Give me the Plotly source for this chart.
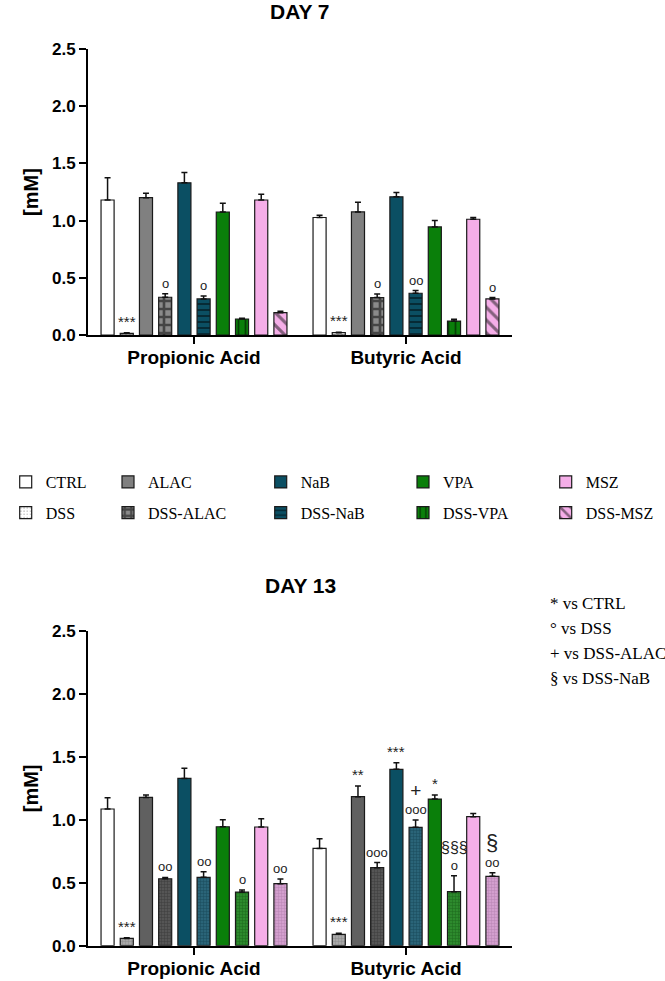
import plotly.graph_objects as go

categories = ["Propionic Acid", "Butyric Acid"]
groups = ["CTRL", "DSS", "ALAC", "DSS-ALAC", "NaB", "DSS-NaB", "VPA", "DSS-VPA", "MSZ", "DSS-MSZ"]

# DAY 7 (mean, SEM), order as in groups
day7_prop_mean = [1.18, 0.015, 1.20, 0.33, 1.33, 0.315, 1.075, 0.14, 1.18, 0.195]
day7_prop_sem = [0.195, 0.004, 0.04, 0.03, 0.09, 0.026, 0.076, 0.006, 0.05, 0.012]
day7_but_mean = [1.027, 0.02, 1.076, 0.327, 1.208, 0.365, 0.945, 0.122, 1.012, 0.315]
day7_but_sem = [0.02, 0.005, 0.085, 0.032, 0.038, 0.023, 0.055, 0.015, 0.015, 0.012]

# DAY 13
day13_prop_mean = [1.086, 0.058, 1.178, 0.532, 1.329, 0.543, 0.945, 0.426, 0.943, 0.493]
day13_prop_sem = [0.09, 0.006, 0.02, 0.01, 0.08, 0.045, 0.056, 0.016, 0.066, 0.037]
day13_but_mean = [0.773, 0.09, 1.184, 0.62, 1.401, 0.94, 1.165, 0.429, 1.025, 0.551]
day13_but_sem = [0.077, 0.008, 0.085, 0.04, 0.053, 0.058, 0.032, 0.127, 0.026, 0.029]

# significance marks
day7_prop_sig = ["", "***", "", "o", "", "o", "", "", "", ""]
day7_but_sig = ["", "***", "", "o", "", "oo", "", "", "", "o"]
day13_prop_sig = ["", "***", "", "oo", "", "oo", "", "o", "", "oo"]
day13_but_sig = ["", "***", "**", "ooo", "***",
                 "<span style='font-size:19px'>+</span><br>ooo", "*",
                 "<span style='font-size:16px'>§§§</span><br>o", "",
                 "<span style='font-size:22px'>§</span><br>oo"]

key_lines = ["* vs CTRL", "° vs DSS", "+ vs DSS-ALAC", "§ vs DSS-NaB"]
yticks = [0.0, 0.5, 1.0, 1.5, 2.0, 2.5]

# styles
base_colors = ["#ffffff", "#ffffff", "#808080", "#808080", "#0b4f63", "#0b4f63",
               "#0a7f0a", "#0a7f0a", "#f5aee8", "#f5aee8"]
day7_patterns = [
    dict(shape=""),
    dict(shape=".", fgcolor="#555555", bgcolor="#ffffff", size=4, solidity=0.15),
    dict(shape=""),
    dict(shape="+", fgcolor="#000000", bgcolor="#8a8a8a", size=8, solidity=0.55),
    dict(shape=""),
    dict(shape="-", fgcolor="#000000", bgcolor="#0b4f63", size=6, solidity=0.3),
    dict(shape=""),
    dict(shape="|", fgcolor="#000000", bgcolor="#0a7f0a", size=7, solidity=0.25),
    dict(shape=""),
    dict(shape="\\", fgcolor="#111111", bgcolor="#f5aee8", size=9, solidity=0.35),
]
day13_colors = ["#ffffff", "#9a9a9a", "#606060", "#404040", "#0b4f63", "#1b4f63",
                "#0a7f0a", "#1f6a1f", "#f5aee8", "#c58fc0"]
day13_patterns = [
    dict(shape=""),
    dict(shape="+", fgcolor="#6e6e6e", bgcolor="#a8a8a8", size=3, solidity=0.3),
    dict(shape=""),
    dict(shape="+", fgcolor="#222222", bgcolor="#555555", size=3, solidity=0.3),
    dict(shape=""),
    dict(shape="+", fgcolor="#08303d", bgcolor="#2a6478", size=3, solidity=0.3),
    dict(shape=""),
    dict(shape="+", fgcolor="#0c4a0c", bgcolor="#2d8a2d", size=3, solidity=0.3),
    dict(shape=""),
    dict(shape="+", fgcolor="#9a6a96", bgcolor="#d39fce", size=3, solidity=0.3),
]

BARGAP = 0.094
BARGROUPGAP = 0.32
L, R = 88, 153
W, H = 665, 981
PW = W - L - R


def px_x(p):
    return (p - L) / PW


def px_y(p):
    return (H - p) / H


legend_names = ["legend", "legend2", "legend3", "legend4", "legend5"]

fig = go.Figure()
for k, g in enumerate(groups):
    fig.add_trace(go.Bar(
        x=categories, y=[day7_prop_mean[k], day7_but_mean[k]], name=g,
        marker=dict(color=base_colors[k], line=dict(color="#1a1a1a", width=1.2),
                    pattern=day7_patterns[k]),
        error_y=dict(type="data", symmetric=False,
                     array=[day7_prop_sem[k], day7_but_sem[k]],
                     arrayminus=[0, 0], color="#111111", thickness=1.5, width=3),
        xaxis="x", yaxis="y", legend=legend_names[k // 2], legendgroup=g,
    ))
for k, g in enumerate(groups):
    fig.add_trace(go.Bar(
        x=categories, y=[day13_prop_mean[k], day13_but_mean[k]], name=g,
        marker=dict(color=day13_colors[k], line=dict(color="#1a1a1a", width=1.2),
                    pattern=day13_patterns[k]),
        error_y=dict(type="data", symmetric=False,
                     array=[day13_prop_sem[k], day13_but_sem[k]],
                     arrayminus=[0, 0], color="#111111", thickness=1.5, width=3),
        xaxis="x2", yaxis="y2", showlegend=False, legendgroup=g,
    ))

annotations = []
slot = (1 - BARGAP) / len(groups)
for xref, yref, sets in [("x", "y", [(day7_prop_mean, day7_prop_sem, day7_prop_sig),
                                     (day7_but_mean, day7_but_sem, day7_but_sig)]),
                         ("x2", "y2", [(day13_prop_mean, day13_prop_sem, day13_prop_sig),
                                       (day13_but_mean, day13_but_sem, day13_but_sig)])]:
    for gi, (m, s, sig) in enumerate(sets):
        for k in range(len(groups)):
            if not sig[k]:
                continue
            annotations.append(dict(
                x=gi + (k - (len(groups) - 1) / 2) * slot, y=m[k] + s[k],
                xref=xref, yref=yref, text=sig[k], showarrow=False,
                yanchor="bottom", yshift=1,
                font=dict(family="Liberation Sans, Arial",
                          size=15 if "*" in sig[k] else 13, color="#222222"),
            ))

annotations.append(dict(x=0.5, y=px_y(12), xref="paper", yref="paper", text="DAY 7",
                        showarrow=False, yanchor="middle",
                        font=dict(family="Liberation Sans, Arial", size=21, color="black", weight="bold")))
annotations.append(dict(x=0.5, y=px_y(585), xref="paper", yref="paper", text="DAY 13",
                        showarrow=False, yanchor="middle",
                        font=dict(family="Liberation Sans, Arial", size=21, color="black", weight="bold")))
for i, line in enumerate(key_lines):
    annotations.append(dict(x=px_x(548), y=px_y(603 + 25 * i), xref="paper", yref="paper",
                            text=line, showarrow=False, xanchor="left", yanchor="middle",
                            font=dict(family="Liberation Serif, Times New Roman", size=17, color="black")))

axis_font = dict(family="Liberation Sans, Arial", size=17, color="black", weight="bold")
yaxis_common = dict(range=[0, 2.5], tickvals=yticks, ticktext=[f"{v:.1f}" for v in yticks],
                    showline=True, linecolor="black", linewidth=2, ticks="outside",
                    ticklen=7, tickwidth=2, tickcolor="black", showgrid=False, zeroline=False,
                    tickfont=axis_font,
                    title=dict(text="[mM]", standoff=8,
                               font=dict(family="Liberation Sans, Arial", size=20, color="black", weight="bold")))
xaxis_common = dict(range=[-0.5, 1.5], showline=True, linecolor="black", linewidth=2,
                    ticks="outside", ticklen=7, tickwidth=2, tickcolor="black",
                    showgrid=False, zeroline=False, ticklabelstandoff=-3,
                    tickfont=dict(family="Liberation Sans, Arial", size=19, color="black", weight="bold"))

leg_text_x = [45.7, 148, 300.7, 443, 585.7]
legend_layouts = {}
for i, name in enumerate(legend_names):
    legend_layouts[name] = dict(
        x=px_x(leg_text_x[i] - 40), xanchor="left", y=px_y(465), yanchor="top",
        orientation="v", bgcolor="rgba(0,0,0,0)", tracegroupgap=7,
        font=dict(family="Liberation Serif, Times New Roman", size=16, color="black"),
    )

fig.update_layout(
    width=W, height=H,
    margin=dict(l=L, r=R, t=0, b=0, autoexpand=False),
    paper_bgcolor="white", plot_bgcolor="white",
    barmode="group", bargap=BARGAP, bargroupgap=BARGROUPGAP,
    xaxis=dict(xaxis_common, anchor="y", domain=[0, 1]),
    yaxis=dict(yaxis_common, anchor="x", domain=[px_y(335), px_y(49)]),
    xaxis2=dict(xaxis_common, anchor="y2", domain=[0, 1]),
    yaxis2=dict(yaxis_common, anchor="x2", domain=[px_y(945.7), px_y(631)]),
    annotations=annotations,
    **legend_layouts,
)

fig.write_html(
    "out.html",
    config={"displayModeBar": False},
    post_script="document.body.style.margin='0';document.body.style.padding='0';"
                "document.documentElement.style.overflow='hidden';",
)
